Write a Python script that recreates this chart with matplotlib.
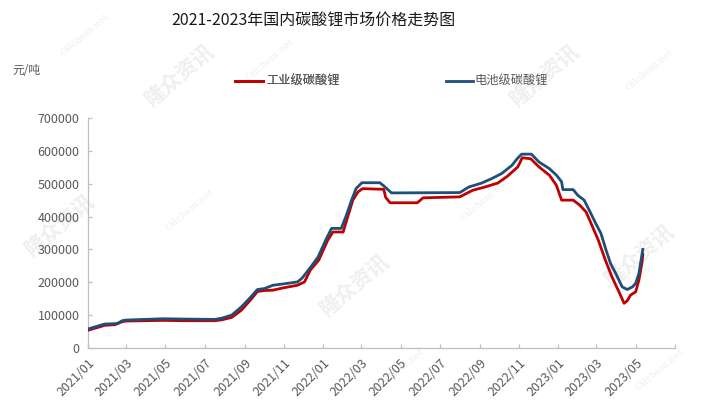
import matplotlib
matplotlib.use("Agg")
import matplotlib.pyplot as plt
import pandas as pd

plt.rcParams['font.family'] = ['Noto Sans CJK SC', 'DejaVu Sans']

title = "2021-2023年国内碳酸锂市场价格走势图"
unit_label = "元/吨"
series_names = ["工业级碳酸锂", "电池级碳酸锂"]

battery_dates = [
    "2021-01-01", "2021-01-27", "2021-02-12", "2021-02-17", "2021-02-23", "2021-03-01",
    "2021-04-27", "2021-06-01", "2021-07-17", "2021-07-28", "2021-08-12", "2021-08-27",
    "2021-09-11", "2021-09-21", "2021-10-02", "2021-10-15", "2021-10-31", "2021-11-22",
    "2021-11-29", "2021-12-11", "2021-12-24", "2022-01-06", "2022-01-14", "2022-01-29",
    "2022-02-06", "2022-02-14", "2022-02-21", "2022-03-02", "2022-03-30", "2022-04-07",
    "2022-04-17", "2022-08-01", "2022-08-15", "2022-09-04", "2022-09-20", "2022-10-05",
    "2022-10-21", "2022-10-29", "2022-11-05", "2022-11-20", "2022-12-02", "2022-12-18",
    "2022-12-29", "2023-01-06", "2023-01-08", "2023-01-24", "2023-01-31", "2023-02-10",
    "2023-02-18", "2023-02-28", "2023-03-08", "2023-03-16", "2023-03-23", "2023-03-31",
    "2023-04-10", "2023-04-18", "2023-04-26", "2023-05-01", "2023-05-06", "2023-05-12",
]
battery_values = [
    58000, 73000, 74000, 76000, 83000, 85000,
    89000, 88000, 87000, 91000, 100000, 125000,
    156000, 178000, 181000, 191000, 195000, 201000,
    212000, 242000, 277000, 333000, 364000, 364000,
    404000, 450000, 485000, 503000, 503000, 490000,
    472000, 473000, 490000, 502000, 516000, 531000,
    556000, 576000, 590000, 590000, 566000, 546000,
    526000, 506000, 482000, 482000, 465000, 450000,
    419000, 379000, 349000, 298000, 257000, 227000,
    186000, 178000, 186000, 197000, 227000, 300000,
]

industrial_dates = [
    "2021-01-01", "2021-01-27", "2021-02-12", "2021-02-23", "2021-03-01", "2021-04-27",
    "2021-06-01", "2021-07-17", "2021-07-28", "2021-08-12", "2021-08-27", "2021-09-11",
    "2021-09-21", "2021-10-02", "2021-10-15", "2021-10-31", "2021-11-22", "2021-12-03",
    "2021-12-12", "2021-12-25", "2022-01-08", "2022-01-16", "2022-02-01", "2022-02-08",
    "2022-02-16", "2022-02-24", "2022-03-03", "2022-04-05", "2022-04-08", "2022-04-15",
    "2022-05-27", "2022-06-05", "2022-08-01", "2022-08-21", "2022-09-09", "2022-09-29",
    "2022-10-14", "2022-10-30", "2022-11-06", "2022-11-19", "2022-12-02", "2022-12-18",
    "2022-12-29", "2023-01-06", "2023-01-24", "2023-02-03", "2023-02-13", "2023-02-23",
    "2023-03-04", "2023-03-15", "2023-03-25", "2023-04-05", "2023-04-13", "2023-04-18",
    "2023-04-23", "2023-05-01", "2023-05-06", "2023-05-11", "2023-05-12",
]
industrial_values = [
    54000, 69000, 71000, 80000, 82000, 84000,
    83000, 83000, 86000, 93000, 115000, 148000,
    172000, 175000, 176000, 183000, 191000, 201000,
    237000, 267000, 328000, 353000, 353000, 399000,
    450000, 475000, 485000, 483000, 458000, 442000,
    442000, 457000, 460000, 480000, 490000, 502000,
    523000, 551000, 579000, 576000, 551000, 526000,
    495000, 450000, 450000, 435000, 414000, 369000,
    328000, 267000, 217000, 171000, 136000, 144000,
    161000, 171000, 207000, 262000, 285000,
]

y_ticks = [0, 100000, 200000, 300000, 400000, 500000, 600000, 700000]
x_start, x_end = "2021-01-01", "2023-07-01"

red = "#C00000"
blue = "#1F4E79"
gray_txt = "#595959"
axis_col = "#BFBFBF"

fig = plt.figure(figsize=(7.06, 4.09), dpi=100)
ax = fig.add_axes([88/706, 1-348/409, (675-88)/706, (348-118)/409])

# faint watermarks (behind the chart)
wm_col = "#EFEFEF"
for (x, y) in [(180, 75), (545, 75), (60, 225), (355, 285), (640, 255)]:
    fig.text(x/706, 1-y/409, "隆众资讯", rotation=40, fontsize=15, fontweight='bold',
             color=wm_col, ha='center', va='center', zorder=-5)
for (x, y) in [(85, 35), (270, 60), (650, 70), (190, 210), (485, 200), (400, 370), (660, 370)]:
    fig.text(x/706, 1-y/409, "Oilchem.net", rotation=40, fontsize=7, family='DejaVu Serif',
             color=wm_col, ha='center', va='center', zorder=-5)

ind_d = pd.to_datetime(industrial_dates)
bat_d = pd.to_datetime(battery_dates)
l1, = ax.plot(ind_d, industrial_values, color=red, lw=2.0, solid_joinstyle='round', zorder=3)
l2, = ax.plot(bat_d, battery_values, color=blue, lw=2.0, solid_joinstyle='round', zorder=4)

ax.set_ylim(0, 700000)
ax.set_xlim(pd.Timestamp(x_start), pd.Timestamp(x_end))
ax.set_yticks(y_ticks)
ax.set_yticklabels([str(v) for v in y_ticks])

xt = pd.date_range(x_start, x_end, freq="2MS")
ax.set_xticks(xt)
labels = [d.strftime("%Y/%m") for d in xt]
labels[-1] = ""
ax.set_xticklabels(labels, rotation=45, ha='right', va='top', rotation_mode='anchor')

for s in ['top', 'right']:
    ax.spines[s].set_visible(False)
for s in ['left', 'bottom']:
    ax.spines[s].set_color(axis_col)
    ax.spines[s].set_linewidth(0.9)
ax.tick_params(axis='both', direction='in', length=3, color=axis_col, width=0.9,
               labelcolor=gray_txt, labelsize=9)
ax.tick_params(axis='y', pad=6)
ax.tick_params(axis='x', pad=6)
ax.patch.set_alpha(0)

fig.text(313/706, 1-21/409, title, fontsize=11.5, color="#1A1A1A", ha='center', va='center')
fig.text(12/706, 1-71/409, unit_label, fontsize=8.5, color=gray_txt, ha='left', va='center')

leg1 = fig.legend([l1], [series_names[0]], loc='center left', bbox_to_anchor=(235/706, 1-81.5/409),
                  frameon=False, fontsize=8.8, handlelength=2.3, handletextpad=0.3,
                  borderpad=0, borderaxespad=0, labelcolor=gray_txt)
leg2 = fig.legend([l2], [series_names[1]], loc='center left', bbox_to_anchor=(446/706, 1-81.5/409),
                  frameon=False, fontsize=8.8, handlelength=2.2, handletextpad=0.15,
                  borderpad=0, borderaxespad=0, labelcolor=gray_txt)
fig.add_artist(leg1)

fig.savefig("out.png", dpi=100)
